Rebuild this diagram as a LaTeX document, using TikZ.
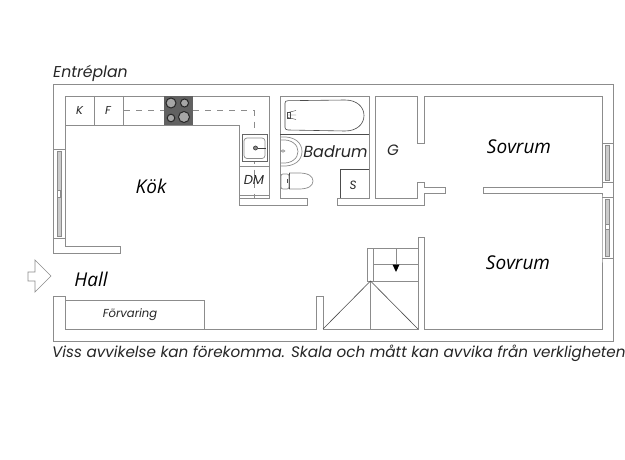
\documentclass[tikz,border=0pt]{standalone}
\usepackage{fontspec}
\setmainfont{Poppins}
\newfontfamily\dark{Open Sans}
\definecolor{wallc}{gray}{0.55}
\definecolor{inkc}{gray}{0.15}
\tikzset{
 wall/.style={draw=wallc,line width=0.8pt,fill=white,line join=miter},
 thin line/.style={draw=wallc,line width=0.7pt},
 darkline/.style={draw=black!70,line width=0.6pt},
 dash line/.style={draw=wallc,line width=0.7pt,dash pattern=on 6pt off 6pt},
 lab/.style={text=inkc,inner sep=0pt},
 rlab/.style={text=black,inner sep=0pt},
}
\begin{document}
\begin{tikzpicture}[x=1pt,y=-1pt]
\useasboundingbox (0,0) rectangle (625,460);
\fill[white] (0,0) rectangle (625,460);
% outer walls
\draw[wall] (53,84) -- (613,84) -- (613,341) -- (53,341) -- (53,296) -- (65,296) -- (65,329)
 -- (316,329) -- (316,296) -- (323,296) -- (323,329) -- (418,329) -- (418,237) -- (424.5,237) -- (424.5,329)
 -- (602,329) -- (602,197) -- (602,193.5) -- (483,193.5) -- (483,187) -- (602,187) -- (602,96)
 -- (424,96) -- (424,143) -- (417,143) -- (417,96) -- (375,96) -- (375,198) -- (417,198) -- (417,182) -- (424,182) -- (424,187)
 -- (445,187) -- (445,193.5) -- (424,193.5) -- (424,205) -- (337,205) -- (337,198) -- (369,198) -- (369,96) -- (280,96) -- (280,198)
 -- (307,198) -- (307,205) -- (239,205) -- (239,198) -- (269,198) -- (269,96) -- (65,96) -- (65,246) -- (120.5,246) -- (120.5,253) -- (53,253) -- cycle;
% left window
\draw[thin line] (53,149) -- (65,149) (53,238) -- (65,238);
\draw[thin line,fill=black!20] (57,151) rectangle (61,236);
\draw[thin line,fill=white] (57,190) rectangle (60.5,197);
% right windows
\draw[thin line] (602,143) -- (613,143) (602,182) -- (613,182) (602,197) -- (613,197) (602,258) -- (613,258);
\draw[thin line,fill=black!20] (605.5,145) rectangle (609.5,180);
\draw[thin line,fill=black!20] (605.5,199) rectangle (609.5,256);
\draw[thin line,fill=white] (605.5,224) rectangle (609.5,229);
% kitchen
\draw[thin line] (65,125) -- (239,125) -- (239,198);
\draw[thin line] (94,96) -- (94,125) (123,96) -- (123,125);
\draw[thin line] (239,166) -- (269,166) (239,195) -- (269,195);
\draw[dash line] (124,110.7) -- (164,110.7) (193,110.7) -- (254,110.7) -- (254,198);
% cooktop
\fill[black!62] (164,96) rectangle (193,125);
\draw[black!85,line width=1pt,fill=black!35] (171,103) circle (5);
\draw[black!85,line width=1pt,fill=black!35] (184.5,103) circle (4);
\draw[black!85,line width=1pt,fill=black!35] (171,118) circle (3.8);
\draw[black!85,line width=1pt,fill=black!35] (184,117) circle (5.5);
% sink
\draw[black!60,line width=1pt,fill=white] (242,135) rectangle (267,162);
\draw[thin line,rounded corners=3pt] (244,138) rectangle (265,158.5);
\draw[black!75,line width=0.7pt,fill=black!45] (255.5,148) circle (2);
\draw[black!75,line width=0.7pt] (257.5,148) -- (266,148);
% bathroom
\draw[darkline] (280,134) -- (369,134);
\draw[darkline,line join=round] (285,103) .. controls (285,101.5) and (286,100.7) .. (288,100.7) -- (345,100) .. controls (357,100) and (364,107) .. (364,115.5) .. controls (364,124) and (357,131) .. (345,131) -- (288,130) .. controls (286,130) and (285,129) .. (285,127.5) -- cycle;
\draw[darkline,line width=0.4pt] (288,112.5) -- (296,110.5) (288,115) -- (296,115) (288,117.5) -- (296,119.5);
\draw[darkline] (287.5,112) rectangle (290,118);
\draw[thin line] (281,137) .. controls (295,136) and (302,143) .. (302,151.5) .. controls (302,160) and (295,167) .. (281,166);
\draw[thin line] (281,140) .. controls (292,139) and (298,145) .. (298,151.5) .. controls (298,158) and (292,164) .. (281,163);
\draw[thin line] (283,151) ellipse (1.8 and 1.2);
% toilet
\draw[thin line] (289,173) -- (299,173) .. controls (308,173) and (313,176) .. (313,181) .. controls (313,186) and (308,189) .. (299,189) -- (289,189);
\draw[darkline] (289,173) -- (289,189);
\draw[thin line,rounded corners=2pt] (281,174) rectangle (289,189);
\fill[black!70] (287,179) rectangle (288,183);
% S cabinet
\draw[darkline] (340,198) -- (340,169) -- (369,169);
% stairs
\draw[wall] (367,248) rectangle (373,281);
\draw[thin line] (373,248) -- (418,248) (373,264.5) -- (418,264.5) (373,281) -- (418,281);
\draw[thin line] (396,248) -- (396,266);
\fill[black] (392.5,264.5) -- (399.5,264.5) -- (396,272) -- cycle;
\draw[thin line] (370.5,281) -- (370.5,329);
\draw[darkline] (323,329) -- (370.5,281) -- (418,329);
% storage
\draw[thin line] (65,300) -- (204,300) -- (204,329);
% entrance arrow
\draw[thin line,line join=miter] (28,272) -- (35,272) -- (35,260) -- (51,276) -- (35,292) -- (35,281) -- (28,281) -- cycle;
% labels
\node[lab,anchor=west,font=\fontsize{15.7}{17}\selectfont\itshape] (entre) at (53,73) {Entréplan};
\node[lab,anchor=west,font=\fontsize{15.2}{17}\selectfont\itshape] (note) at (52,353.5) {Viss avvikelse kan förekomma. Skala och mått kan avvika från verkligheten};
\node[rlab,font=\fontsize{19}{20}\selectfont\dark\itshape] (kok) at (151,186) {Kök};
\node[rlab,font=\fontsize{19}{20}\selectfont\dark\itshape] (hall) at (91,279) {Hall};
\node[rlab,font=\fontsize{19}{20}\selectfont\dark\itshape] (s1) at (519,147) {Sovrum};
\node[rlab,font=\fontsize{19}{20}\selectfont\dark\itshape] (s2) at (518,263) {Sovrum};
\node[lab,font=\fontsize{11.6}{13}\selectfont\itshape] (forv) at (130,315) {Förvaring};
\node[lab,font=\fontsize{16}{17}\selectfont\itshape] (bad) at (335.5,151.5) {Badrum};
\node[lab,font=\fontsize{15}{16}\selectfont\itshape] (g) at (393,150) {G};
\node[lab,font=\fontsize{12}{13}\selectfont\itshape] (s) at (353,185) {S};
\node[lab,font=\fontsize{11.5}{13}\selectfont\itshape] (k) at (79.5,110) {K};
\node[lab,font=\fontsize{11.5}{13}\selectfont\itshape] (f) at (108,110) {F};
\node[lab,font=\fontsize{13}{14}\selectfont\itshape] (dm) at (254,180) {DM};
\end{tikzpicture}
\end{document}
